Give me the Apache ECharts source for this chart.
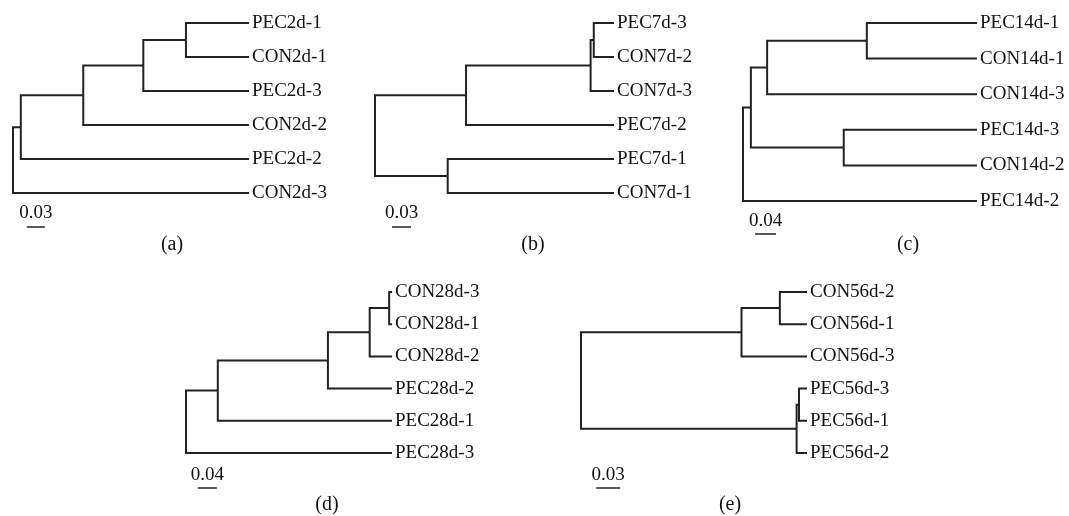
<!DOCTYPE html>
<html>
<head>
<meta charset="utf-8">
<title>Dendrograms</title>
<script src="https://cdn.jsdelivr.net/npm/echarts@6.0.0/dist/echarts.min.js"></script>
<style>
  html, body { margin: 0; padding: 0; background: #fff; }
  #main { width: 1069px; height: 516px; }
</style>
</head>
<body>
<div id="main"></div>
<script>
// leaves are listed top to bottom; a join is [child, child, depth from root]
// a string child is a leaf, a number child points to an earlier join
var leavesA = ['PEC2d-1', 'CON2d-1', 'PEC2d-3', 'CON2d-2', 'PEC2d-2', 'CON2d-3'];
var joinsA = [
  ['PEC2d-1', 'CON2d-1', 0.288],
  [0, 'PEC2d-3', 0.217],
  [1, 'CON2d-2', 0.117],
  [2, 'PEC2d-2', 0.013],
  [3, 'CON2d-3', 0]
];
var tipA = 0.393;

var leavesB = ['PEC7d-3', 'CON7d-2', 'CON7d-3', 'PEC7d-2', 'PEC7d-1', 'CON7d-1'];
var joinsB = [
  ['PEC7d-3', 'CON7d-2', 0.346],
  [0, 'CON7d-3', 0.341],
  [1, 'PEC7d-2', 0.144],
  ['PEC7d-1', 'CON7d-1', 0.115],
  [2, 3, 0]
];
var tipB = 0.378;

var leavesC = ['PEC14d-1', 'CON14d-1', 'CON14d-3', 'PEC14d-3', 'CON14d-2', 'PEC14d-2'];
var joinsC = [
  ['PEC14d-1', 'CON14d-1', 0.236],
  [0, 'CON14d-3', 0.046],
  ['PEC14d-3', 'CON14d-2', 0.192],
  [1, 2, 0.015],
  [3, 'PEC14d-2', 0]
];
var tipC = 0.446;

var leavesD = ['CON28d-3', 'CON28d-1', 'CON28d-2', 'PEC28d-2', 'PEC28d-1', 'PEC28d-3'];
var joinsD = [
  ['CON28d-3', 'CON28d-1', 0.428],
  [0, 'CON28d-2', 0.387],
  [1, 'PEC28d-2', 0.299],
  [2, 'PEC28d-1', 0.067],
  [3, 'PEC28d-3', 0]
];
var tipD = 0.434;

var leavesE = ['CON56d-2', 'CON56d-1', 'CON56d-3', 'PEC56d-3', 'PEC56d-1', 'PEC56d-2'];
var joinsE = [
  ['CON56d-2', 'CON56d-1', 0.249],
  [0, 'CON56d-3', 0.201],
  ['PEC56d-3', 'PEC56d-1', 0.273],
  [2, 'PEC56d-2', 0.270],
  [1, 3, 0]
];
var tipE = 0.283;

// scale bars: [length, start]
var scaleA = [0.03, 0.023];
var scaleB = [0.03, 0.027];
var scaleC = [0.04, 0.023];
var scaleD = [0.04, 0.025];
var scaleE = [0.03, 0.019];

var captions = ['(a)', '(b)', '(c)', '(d)', '(e)'];

var FONT = 'Liberation Serif';
var INK = '#222';

// grid placement, in px
var panels = [
  {leaves: leavesA, joins: joinsA, tip: tipA, scale: scaleA, left: 13, top: 23, width: 236, gap: 34, barRow: 6, capX: 172, capY: 235},
  {leaves: leavesB, joins: joinsB, tip: tipB, scale: scaleB, left: 375, top: 23, width: 239, gap: 34, barRow: 6, capX: 533, capY: 235},
  {leaves: leavesC, joins: joinsC, tip: tipC, scale: scaleC, left: 743, top: 23, width: 234, gap: 35.6, barRow: 5.93, capX: 908, capY: 235},
  {leaves: leavesD, joins: joinsD, tip: tipD, scale: scaleD, left: 186, top: 292, width: 206, gap: 32.2, barRow: 6.09, capX: 327, capY: 495},
  {leaves: leavesE, joins: joinsE, tip: tipE, scale: scaleE, left: 581, top: 292, width: 226, gap: 32.2, barRow: 6.09, capX: 730, capY: 495}
];

function treePaths(leaves, joins, tip) {
  var pos = [];
  function at(c) {
    return typeof c === 'string' ? [tip, leaves.indexOf(c)] : pos[c];
  }
  var paths = [];
  joins.forEach(function (j) {
    var p = at(j[0]), q = at(j[1]);
    pos.push([j[2], (p[1] + q[1]) / 2]);
    paths.push({coords: [[p[0], p[1]], [j[2], p[1]], [j[2], q[1]], [q[0], q[1]]]});
  });
  return paths;
}

var grids = [], xAxes = [], yAxes = [], series = [], titles = [];

panels.forEach(function (p, i) {
  grids.push({left: p.left, top: p.top, width: p.width, height: p.gap * 7, outerBoundsMode: 'none'});
  xAxes.push({gridIndex: i, type: 'value', min: 0, max: p.tip, show: false});
  yAxes.push({
    gridIndex: i, type: 'value', min: 0, max: 7, interval: 1, inverse: true, position: 'right',
    axisLine: {show: false}, axisTick: {show: false}, splitLine: {show: false},
    axisLabel: {
      margin: 3, fontFamily: FONT, fontSize: 19, color: '#111',
      formatter: function (v) { return p.leaves[v] || ''; }
    }
  });
  series.push({
    type: 'lines', coordinateSystem: 'cartesian2d', xAxisIndex: i, yAxisIndex: i,
    polyline: true, silent: true,
    lineStyle: {color: INK, width: 2, opacity: 1},
    data: treePaths(p.leaves, p.joins, p.tip)
  });
  series.push({
    type: 'lines', coordinateSystem: 'cartesian2d', xAxisIndex: i, yAxisIndex: i,
    silent: true,
    lineStyle: {color: INK, width: 1.5, opacity: 1},
    label: {
      show: true, position: 'insideMiddleTop', distance: 4,
      fontFamily: FONT, fontSize: 19, color: '#111',
      formatter: p.scale[0].toFixed(2)
    },
    data: [{coords: [[p.scale[1], p.barRow], [p.scale[1] + p.scale[0], p.barRow]]}]
  });
  titles.push({
    text: captions[i], left: p.capX, top: p.capY, textAlign: 'center', padding: 0,
    textStyle: {fontFamily: FONT, fontSize: 20, fontWeight: 'normal', color: '#111'}
  });
});

var myChart = echarts.init(document.getElementById('main'));
myChart.setOption({
  animation: false,
  backgroundColor: '#fff',
  title: titles,
  grid: grids,
  xAxis: xAxes,
  yAxis: yAxes,
  series: series
});
</script>
</body>
</html>
